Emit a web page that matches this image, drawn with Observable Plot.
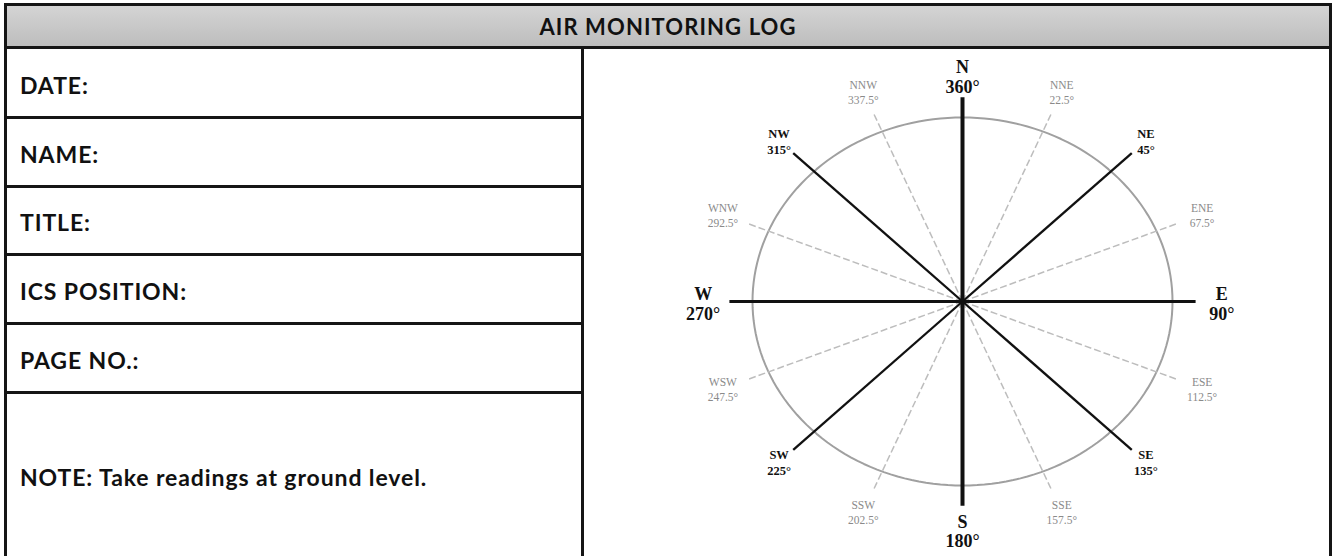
<!DOCTYPE html>
<html>
<head>
<meta charset="utf-8">
<script src="https://cdn.jsdelivr.net/npm/d3@7"></script>
<script src="https://cdn.jsdelivr.net/npm/@observablehq/plot@0.6"></script>
<style>
  html, body { margin: 0; padding: 0; background: #fff; }
  #page { position: relative; width: 1335px; height: 556px; overflow: hidden; background: #fff; }
  .abs { position: absolute; }
  #frame { left: 4px; top: 3px; width: 1328px; height: 640px; border: 3px solid #151515; box-sizing: border-box; }
  #header { left: 7px; top: 6px; width: 1322px; height: 40px; background: linear-gradient(#d4d4d4, #bdbdbd);
            display: flex; align-items: center; justify-content: center;
            font-family: Lato, "Open Sans", sans-serif; font-weight: 700; font-size: 22px; letter-spacing: 1.1px; color: #111; }
  .hline { background: #151515; }
  .label { left: 20px; font-family: Lato, "Open Sans", sans-serif; font-weight: 700; font-size: 23px; letter-spacing: 0.9px; color: #111;
           transform: translateY(-50%); white-space: nowrap; }
  #chart { left: 0; top: 0; }
</style>
</head>
<body>
<div id="page">
  <div id="frame" class="abs"></div>
  <div id="header" class="abs"></div>
  <div id="headerLine" class="abs hline" style="left:7px;top:46px;width:1322px;height:3px"></div>
  <div id="divider" class="abs hline" style="left:581px;top:49px;width:3px;height:520px"></div>
  <div id="form"></div>
  <div id="chart" class="abs"></div>
</div>
<script>
// ---- data ----
const title = "AIR MONITORING LOG";
const formLabels = ["DATE:", "NAME:", "TITLE:", "ICS POSITION:", "PAGE NO.:"];
const noteText = "NOTE: Take readings at ground level.";

const directions = ["N", "NNE", "NE", "ENE", "E", "ESE", "SE", "SSE", "S", "SSW", "SW", "WSW", "W", "WNW", "NW", "NNW"];
const bearings = [360, 22.5, 45, 67.5, 90, 112.5, 135, 157.5, 180, 202.5, 225, 247.5, 270, 292.5, 315, 337.5];
const degreeLabels = ["360°", "22.5°", "45°", "67.5°", "90°", "112.5°", "135°", "157.5°", "180°", "202.5°", "225°", "247.5°", "270°", "292.5°", "315°", "337.5°"];
const tiers = ["cardinal", "minor", "inter", "minor", "cardinal", "minor", "inter", "minor",
               "cardinal", "minor", "inter", "minor", "cardinal", "minor", "inter", "minor"];

// ---- form (HTML) ----
document.getElementById("header").textContent = title;
const form = document.getElementById("form");
const rowEdges = [49, 117, 186, 254, 323, 392, 556];
rowEdges.slice(1, 6).forEach(y => {
  const d = document.createElement("div");
  d.className = "abs hline";
  d.style.cssText = `left:7px;top:${y - 1}px;width:574px;height:2.5px`;
  form.appendChild(d);
});
[...formLabels, noteText].forEach((t, i) => {
  const d = document.createElement("div");
  d.className = "abs label";
  const c = i < 5 ? (rowEdges[i] + rowEdges[i + 1]) / 2 + 2 : 477;
  d.style.top = c + "px";
  d.textContent = t;
  form.appendChild(d);
});

// ---- compass rose (Plot) ----
const rose = directions.map((dir, i) => ({dir, deg: bearings[i], label: degreeLabels[i], tier: tiers[i]}));
const rad = d => d * Math.PI / 180;
const lineLen = {cardinal: 1.11, inter: 1.14, minor: 1.1};
const labelR = 1.235;
const pts = rose.map(d => ({
  ...d,
  x2: lineLen[d.tier] * Math.sin(rad(d.deg)),
  y2: lineLen[d.tier] * Math.cos(rad(d.deg)),
  lx: labelR * Math.sin(rad(d.deg)),
  ly: labelR * Math.cos(rad(d.deg)),
  text: d.dir + "\n" + d.label
}));
const ring = d3.range(0, 361, 2).map(a => ({x: Math.sin(rad(a)), y: Math.cos(rad(a))}));
const serif = "'Liberation Serif', 'DejaVu Serif', serif";

const chart = Plot.plot({
  width: 1335,
  height: 556,
  margin: 0,
  x: {domain: [-1, 1], range: [752, 1172], axis: null},
  y: {domain: [-1, 1], range: [485, 117], axis: null},
  style: {background: "transparent", overflow: "visible"},
  marks: [
    Plot.line(ring, {x: "x", y: "y", stroke: "#a0a0a0", strokeWidth: 2}),
    Plot.link(pts.filter(d => d.tier === "minor"), {x1: 0, y1: 0, x2: "x2", y2: "y2",
      stroke: "#bdbdbd", strokeWidth: 1.5, strokeDasharray: "7,3"}),
    Plot.link(pts.filter(d => d.tier === "inter"), {x1: 0, y1: 0, x2: "x2", y2: "y2",
      stroke: "#111", strokeWidth: 2.3}),
    Plot.link(pts.filter(d => d.dir === "E" || d.dir === "W"), {x1: 0, y1: 0, x2: "x2", y2: "y2",
      stroke: "#111", strokeWidth: 2.8}),
    Plot.link(pts.filter(d => d.dir === "N" || d.dir === "S"), {x1: 0, y1: 0, x2: "x2", y2: "y2",
      stroke: "#111", strokeWidth: 4}),
    Plot.text(pts.filter(d => d.tier === "minor"), {x: "lx", y: "ly", text: "text",
      fontFamily: serif, fontSize: 11.5, fill: "#8a8a8a", lineHeight: 1.3, lineAnchor: "middle"}),
    Plot.text(pts.filter(d => d.tier === "inter"), {x: "lx", y: "ly", text: "text",
      fontFamily: serif, fontSize: 12.5, fontWeight: "bold", fill: "#111", lineHeight: 1.3, lineAnchor: "middle"}),
    Plot.text(pts.filter(d => d.tier === "cardinal"), {x: "lx", y: "ly", text: "text", dy: 2.5,
      fontFamily: serif, fontSize: 18, fontWeight: "bold", fill: "#111", lineHeight: 1.1, lineAnchor: "middle"})
  ]
});
document.getElementById("chart").appendChild(chart);
</script>
</body>
</html>
